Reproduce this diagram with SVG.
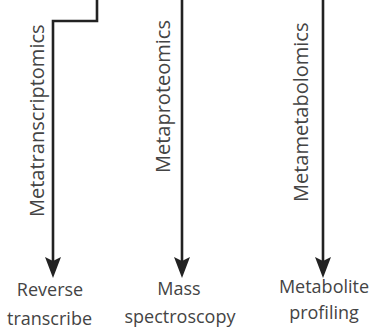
<svg xmlns="http://www.w3.org/2000/svg" width="385" height="332" viewBox="0 0 385 332">
<style>
.ln{fill:none;stroke:#222;stroke-width:2.6;stroke-linejoin:miter}
.hd{fill:#222}
.vl{font-family:"Open Sans",sans-serif;font-size:20px;fill:#444}
.bl{font-family:"Open Sans",sans-serif;font-size:18px;fill:#444;text-anchor:middle}
</style>
<defs>
<path id="head" d="M0,0 L-8,-21 L0,-17 L8,-21 Z"/>
</defs>
<rect width="385" height="332" fill="#fff"/>
<g id="connectors">
<polyline class="ln" points="97,0 97,21 53,21 53,262"/>
<line class="ln" x1="182" y1="0" x2="182" y2="262"/>
<line class="ln" x1="323" y1="0" x2="323" y2="262"/>
<use href="#head" class="hd" x="53" y="278"/>
<use href="#head" class="hd" x="182" y="278"/>
<use href="#head" class="hd" x="323" y="278"/>
<text class="vl" transform="translate(44,217) rotate(-90)">Metatranscriptomics</text>
<text class="vl" transform="translate(170,173) rotate(-90)">Metaproteomics</text>
<text class="vl" transform="translate(308,202) rotate(-90)">Metametabolomics</text>
</g>
<g id="reverse-transcribe">
<text class="bl" x="50" y="296">Reverse</text>
<text class="bl" x="49.5" y="325">transcribe</text>
</g>
<g id="mass-spectroscopy">
<text class="bl" x="179" y="295">Mass</text>
<text class="bl" x="180" y="323">spectroscopy</text>
</g>
<g id="metabolite-profiling">
<text class="bl" x="324" y="293">Metabolite</text>
<text class="bl" x="324" y="319">profiling</text>
</g>
</svg>
